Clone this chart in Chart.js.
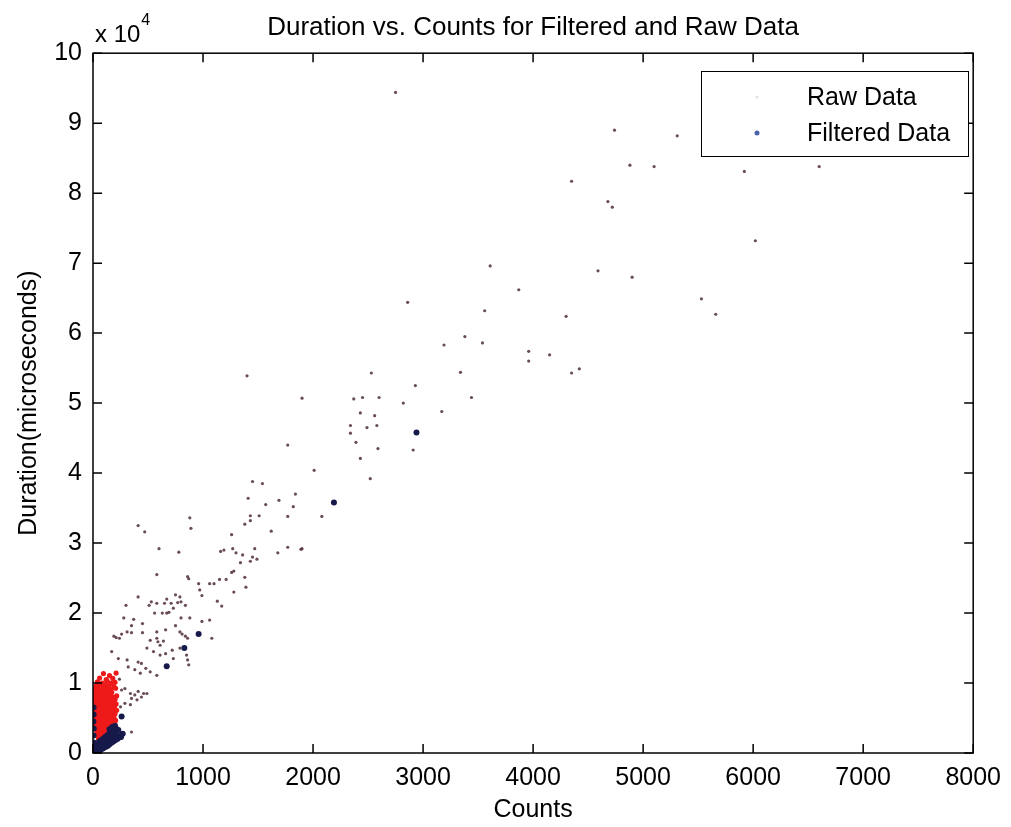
<!DOCTYPE html>
<html>
<head>
<meta charset="utf-8">
<title>Duration vs. Counts</title>
<script src="https://cdn.jsdelivr.net/npm/chart.js@4.4.1/dist/chart.umd.min.js"></script>
<style>
  html, body { margin: 0; padding: 0; background: #fff; }
</style>
</head>
<body>
<canvas id="scatterChart" width="1011" height="827"></canvas>
<script>
// raw events, sparse part (counts / duration in microseconds)
var rawSpreadCounts = [
  2750, 4740, 5310, 4880, 5100, 5920, 6600, 4350, 4680, 4720, 6020, 4590, 4900, 5530, 5660,
  3610, 3870, 2860, 3560, 4300, 3380, 3190, 3540, 3960, 4150, 3960, 4350, 4420, 2530, 3340,
  2930, 2820, 3440, 3170, 1900, 2370, 2450, 2600, 2430, 2560, 2340, 2490, 2580, 2340, 2390,
  2590, 2910, 2430, 2010, 2520, 2080, 1900, 1400, 1770, 1450, 1540, 1410, 1840, 1690, 1570,
  1820, 1430, 1510, 1430, 1770, 1380, 1620, 880, 890, 410, 470, 1260, 600, 780, 1160,
  1190, 1270, 1300, 1360, 1470, 1450, 1490, 1430, 1340, 1680, 1770, 1890, 1260, 1280, 1380,
  1390, 1210, 1150, 1100, 1060, 960, 970, 990, 860, 870, 580, 1280, 1130, 1170, 750,
  790, 800, 770, 710, 670, 650, 730, 690, 840, 880, 800, 510, 530, 580, 300,
  410, 560, 630, 670, 280, 370, 450, 350, 750, 990, 1060, 1080, 210, 190, 240,
  260, 310, 350, 450, 520, 580, 580, 590, 660, 790, 810, 840, 860, 610, 640,
  490, 550, 610, 660, 730, 720, 790, 850, 860, 870, 170, 230, 310, 410, 440,
  320, 380, 480, 520, 580, 430, 260, 290, 340, 410, 440, 460, 490, 350, 400,
  290, 250, 340, 380, 350
];
var rawSpreadDurations = [
  94400, 89000, 88200, 84000, 83800, 83100, 83800, 81700, 78800, 78000, 73200, 68900, 68000, 64900, 62700,
  69600, 66200, 64400, 63200, 62400, 59500, 58300, 58600, 57400, 56900, 56000, 54300, 54900, 54300, 54400,
  52500, 50000, 50800, 48800, 50700, 50600, 50800, 50800, 48600, 48200, 46800, 46500, 46800, 45700, 44400,
  43500, 43300, 42100, 40400, 39200, 33800, 29200, 53900, 44000, 38800, 38500, 36400, 37000, 36100, 35500,
  35200, 33900, 33900, 33200, 33800, 32700, 31700, 33600, 32100, 32500, 31600, 31200, 29200, 28700, 28800,
  29000, 29200, 28600, 28300, 29200, 28000, 27700, 27400, 27200, 28600, 29400, 29100, 25800, 26000, 25100,
  23700, 24800, 24800, 24200, 24200, 24200, 23300, 22500, 25200, 24900, 25500, 23000, 21700, 21000, 22600,
  22300, 21600, 21500, 21400, 22000, 21400, 20700, 20100, 21100, 19300, 19300, 21100, 21600, 21400, 21100,
  22300, 20000, 20000, 20000, 19300, 19100, 18500, 18200, 18200, 18800, 19000, 16400, 16500, 16700, 16400,
  17000, 17300, 17200, 17200, 16100, 17300, 16400, 15900, 17600, 17300, 17000, 16700, 16400, 15400, 16000,
  15000, 14500, 14000, 14200, 13500, 14700, 15000, 14000, 13300, 12600, 14500, 13500, 13300, 13000, 12800,
  12300, 11900, 12100, 11600, 11100, 11400, 9000, 9200, 8500, 8800, 8000, 8500, 8500, 7800, 7600,
  7100, 6600, 6900, 8300, 3000
];

// raw events, dense core near the origin
var rawCoreCounts = [
  95, 150, 210,
  60, 120, 180, 240,
  40, 85, 130, 165, 200,
  25, 55, 90, 115, 145, 190,
  15, 45, 70, 100, 125, 160, 205,
  10, 35, 60, 80, 105, 135, 170,
  8, 25, 50, 75, 95, 120, 150, 185, 215,
  12, 30, 55, 70, 90, 115, 140, 165, 200,
  6, 22, 40, 60, 85, 105, 130, 150, 180, 210,
  10, 28, 45, 65, 80, 100, 125, 145, 170, 195,
  5, 20, 38, 55, 75, 95, 115, 135, 160, 185, 215,
  12, 30, 48, 62, 85, 105, 125, 150, 175, 200,
  8, 25, 42, 58, 78, 98, 118, 140, 165, 190,
  15, 32, 50, 70, 88, 110, 130, 155, 180, 205,
  20, 40, 60, 80, 100, 120, 145, 170, 195,
  28, 48, 65, 85, 105, 130, 155, 180,
  35, 55, 75, 95, 115, 140, 165,
  40, 62, 80, 100, 125, 150,
  50, 70, 90, 110, 135,
  60, 85, 105
];
var rawCoreDurations = [
  11350, 11050, 11420,
  10700, 10500, 10650, 10550,
  10150, 10000, 10250, 9950, 10100,
  9550, 9700, 9500, 9650, 9600, 9450,
  9100, 9200, 9000, 9150, 8950, 9100, 9250,
  8650, 8500, 8700, 8550, 8600, 8450, 8650,
  8100, 8200, 8050, 8150, 8000, 8200, 8100, 7950, 8150,
  7600, 7700, 7550, 7650, 7500, 7700, 7600, 7550, 7650,
  7150, 7050, 7200, 7100, 7000, 7150, 7050, 7200, 7100, 7000,
  6600, 6700, 6550, 6650, 6600, 6500, 6700, 6550, 6650, 6600,
  6100, 6200, 6050, 6150, 6100, 6000, 6200, 6100, 6050, 6150, 6100,
  5650, 5550, 5700, 5600, 5500, 5650, 5600, 5550, 5700, 5600,
  5100, 5200, 5050, 5150, 5100, 5000, 5200, 5100, 5050, 5150,
  4650, 4550, 4600, 4700, 4550, 4650, 4600, 4700, 4550, 4650,
  4100, 4200, 4050, 4150, 4100, 4000, 4150, 4100, 4200,
  3650, 3550, 3600, 3700, 3550, 3650, 3600, 3700,
  3100, 3200, 3050, 3150, 3100, 3200, 3100,
  2650, 2550, 2600, 2700, 2600, 2650,
  2100, 2200, 2050, 2150, 2100,
  1700, 1750, 1650
];

// filtered events
var filteredCounts = [
  260, 670, 830, 960, 2190, 2940,
  3, 12, 20, 28, 35, 45, 52, 60, 68, 75, 85, 92, 100, 110,
  118, 125, 135, 142, 150, 160, 168, 175, 185, 195, 205, 215, 225, 240, 255, 270,
  8, 15, 25, 40, 55, 70, 90, 110, 130, 150, 170, 190, 210,
  6, 5, 7, 4, 6, 5,
  160, 180, 200, 230, 120, 140, 80, 100, 50, 150, 175, 200
];
var filteredDurations = [
  5200, 12400, 15000, 17000, 35800, 45800,
  150, 350, 120, 420, 250, 500, 300, 650, 420, 800, 600, 950, 750, 1100,
  900, 1300, 1050, 1500, 1250, 1700, 1450, 1900, 1650, 2100, 1850, 2300, 2050, 2500, 2300, 2750,
  600, 900, 1100, 1350, 1600, 1800, 2000, 2300, 2550, 2800, 3000, 3250, 3500,
  1500, 2500, 3500, 4500, 5500, 6500,
  2300, 2700, 3000, 3300, 1800, 2100, 1300, 1550, 1000, 3400, 3700, 3900
];

var xTicks = [0, 1000, 2000, 3000, 4000, 5000, 6000, 7000, 8000];
var yTicks = [0, 10000, 20000, 30000, 40000, 50000, 60000, 70000, 80000, 90000, 100000];

var FONT = "'Liberation Sans', Arial, Helvetica, sans-serif";

function toPoints(xs, ys) {
  return xs.map(function (v, i) { return { x: v, y: ys[i] }; });
}

var rawPoints = toPoints(rawSpreadCounts.concat(rawCoreCounts), rawSpreadDurations.concat(rawCoreDurations));
var filteredPoints = toPoints(filteredCounts, filteredDurations);

// points that pile up in the low count / low duration corner
function inCore(p) {
  return p && p.x < 230 && p.y < 12500;
}

// box, inward ticks, exponent label and legend, matlab style
var matlabFrame = {
  id: 'matlabFrame',
  afterDatasetsDraw: function (chart) {
    var ctx = chart.ctx;
    var a = chart.chartArea;
    var xs = chart.scales.x, ys = chart.scales.y;
    ctx.save();
    ctx.strokeStyle = '#000';
    ctx.lineWidth = 1.5;
    ctx.strokeRect(a.left, a.top, a.right - a.left, a.bottom - a.top);
    var tl = 9;
    ctx.beginPath();
    xTicks.forEach(function (v) {
      var px = xs.getPixelForValue(v);
      ctx.moveTo(px, a.bottom); ctx.lineTo(px, a.bottom - tl);
      ctx.moveTo(px, a.top); ctx.lineTo(px, a.top + tl);
    });
    yTicks.forEach(function (v) {
      var py = ys.getPixelForValue(v);
      ctx.moveTo(a.left, py); ctx.lineTo(a.left + tl, py);
      ctx.moveTo(a.right, py); ctx.lineTo(a.right - tl, py);
    });
    ctx.stroke();

    // exponent
    ctx.fillStyle = '#000';
    ctx.textBaseline = 'alphabetic';
    ctx.textAlign = 'left';
    ctx.font = '24px ' + FONT;
    ctx.fillText('x 10', a.left + 2, 42);
    var w = ctx.measureText('x 10').width;
    ctx.font = '16px ' + FONT;
    ctx.fillText('4', a.left + 3 + w, 25);

    // legend
    var lx = 701, ly = 71, lw = 267, lh = 85;
    ctx.fillStyle = '#fff';
    ctx.fillRect(lx, ly, lw, lh);
    ctx.lineWidth = 1;
    ctx.strokeStyle = '#000';
    ctx.strokeRect(lx + 0.5, ly + 0.5, lw, lh);
    var labels = chart.data.datasets.map(function (d) { return d.label; });
    ctx.font = '25px ' + FONT;
    ctx.textBaseline = 'middle';
    ctx.fillStyle = '#000';
    ctx.fillText(labels[0], 807, 98);
    ctx.fillText(labels[1], 807, 134);
    ctx.fillStyle = '#e4e0e0';
    ctx.beginPath(); ctx.arc(757, 97, 1.5, 0, Math.PI * 2); ctx.fill();
    ctx.fillStyle = '#4a64a8';
    ctx.beginPath(); ctx.arc(757, 133, 2.5, 0, Math.PI * 2); ctx.fill();
    ctx.restore();
  }
};

var chart = new Chart(document.getElementById('scatterChart').getContext('2d'), {
  type: 'scatter',
  data: {
    datasets: [{
      label: 'Raw Data',
      data: rawPoints,
      order: 2,
      pointBorderWidth: 0,
      pointRadius: function (c) { return inCore(c.raw) ? 2.6 : 1.6; },
      pointBackgroundColor: function (c) {
        return inCore(c.raw) ? '#ee1a1a' : 'rgba(80,45,55,0.85)';
      }
    }, {
      label: 'Filtered Data',
      data: filteredPoints,
      order: 1,
      pointRadius: 3,
      pointBorderWidth: 0,
      pointBackgroundColor: '#16194a'
    }]
  },
  options: {
    responsive: false,
    devicePixelRatio: 1,
    animation: false,
    layout: { padding: { top: 0, right: 34, bottom: 0, left: 0 } },
    plugins: {
      legend: { display: false },
      tooltip: { enabled: false },
      title: {
        display: true,
        fullSize: false,
        text: 'Duration vs. Counts for Filtered and Raw Data',
        color: '#000',
        font: { family: FONT, size: 26, weight: 'normal' },
        padding: { top: 12, bottom: 10 }
      }
    },
    scales: {
      x: {
        type: 'linear',
        min: 0,
        max: 8000,
        afterFit: function (s) { s.height = 74; },
        afterBuildTicks: function (s) { s.ticks = xTicks.map(function (v) { return { value: v }; }); },
        grid: { display: false, drawTicks: false },
        border: { display: false },
        ticks: {
          color: '#000',
          padding: 10,
          font: { family: FONT, size: 25 },
          maxRotation: 0,
          callback: function (v) { return String(v); }
        },
        title: {
          display: true,
          text: 'Counts',
          color: '#000',
          font: { family: FONT, size: 25 },
          padding: { top: 0, bottom: 2 }
        }
      },
      y: {
        type: 'linear',
        min: 0,
        max: 100000,
        afterFit: function (s) { s.width = 93; },
        afterBuildTicks: function (s) { s.ticks = yTicks.map(function (v) { return { value: v }; }); },
        grid: { display: false, drawTicks: false },
        border: { display: false },
        ticks: {
          color: '#000',
          padding: 11,
          font: { family: FONT, size: 25 },
          callback: function (v) { return String(v / 10000); }
        },
        title: {
          display: true,
          text: 'Duration(microseconds)',
          color: '#000',
          font: { family: FONT, size: 25 },
          padding: { top: 14, bottom: 0 }
        }
      }
    }
  },
  plugins: [matlabFrame]
});
</script>
</body>
</html>
